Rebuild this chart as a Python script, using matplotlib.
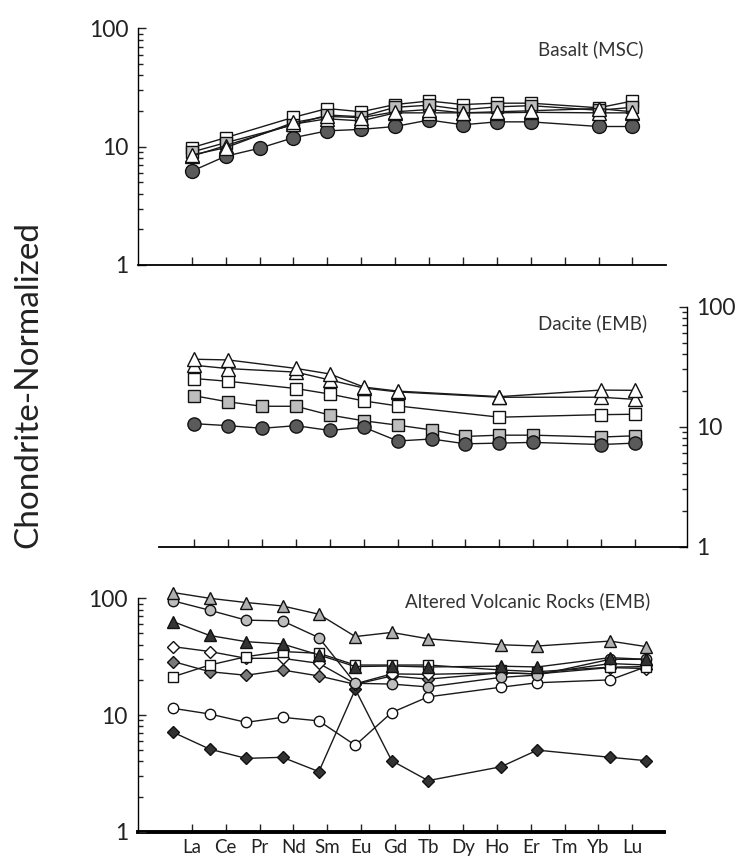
import numpy as np
import matplotlib
matplotlib.use("Agg")
import matplotlib.pyplot as plt
from matplotlib.ticker import LogLocator, NullFormatter, FixedLocator

plt.rcParams['font.family'] = ['Lato', 'DejaVu Sans']

# ---------------- data ----------------
elements = ['La', 'Ce', 'Pr', 'Nd', 'Sm', 'Eu', 'Gd', 'Tb', 'Dy', 'Ho', 'Er', 'Tm', 'Yb', 'Lu']

# Basalt (MSC)
bas_circle_el = ['La', 'Ce', 'Pr', 'Nd', 'Sm', 'Eu', 'Gd', 'Tb', 'Dy', 'Ho', 'Er', 'Yb', 'Lu']
bas_circle = [6.2, 8.3, 9.7, 11.9, 13.6, 14.0, 14.8, 16.8, 15.3, 16.2, 16.2, 14.8, 14.8]
bas_el = ['La', 'Ce', 'Nd', 'Sm', 'Eu', 'Gd', 'Tb', 'Dy', 'Ho', 'Er', 'Yb', 'Lu']
bas_gray_sq = [9.0, 10.8, 15.3, 18.5, 17.9, 21.5, 22.4, 20.5, 21.7, 22.2, 20.3, 21.5]
bas_white_sq = [9.8, 11.9, 17.7, 21.0, 19.7, 22.7, 24.3, 22.7, 23.3, 23.3, 21.3, 24.3]
bas_tri_a = [8.5, 9.8, 16.0, 18.0, 17.6, 19.7, 20.6, 19.3, 19.7, 20.1, 21.0, 19.7]
bas_tri_b = [8.3, 10.2, 15.5, 17.2, 16.5, 19.3, 19.3, 19.3, 19.3, 19.5, 19.3, 19.3]

# Dacite (EMB)
dac_full_el = ['La', 'Ce', 'Pr', 'Nd', 'Sm', 'Eu', 'Gd', 'Tb', 'Dy', 'Ho', 'Er', 'Yb', 'Lu']
dac_circle = [10.6, 10.2, 9.7, 10.2, 9.3, 9.9, 7.6, 7.9, 7.2, 7.3, 7.4, 7.1, 7.3]
dac_gray_sq = [18.1, 16.1, 14.8, 14.8, 12.5, 11.2, 10.3, 9.4, 8.3, 8.5, 8.5, 8.2, 8.4]
dac_part_el = ['La', 'Ce', 'Nd', 'Sm', 'Eu', 'Gd', 'Ho', 'Yb', 'Lu']
dac_white_sq = [25.2, 23.9, 20.8, 18.7, 16.4, 14.9, 12.0, 12.6, 12.7]
dac_tri_a = [36.5, 36.0, 30.6, 27.5, 21.4, 19.8, 17.8, 20.2, 20.1]
dac_tri_b = [32.5, 30.5, 28.5, 24.5, 21.0, 19.5, 17.6, 17.6, 16.9]

# Altered Volcanic Rocks (EMB)
alt_el = ['La', 'Ce', 'Pr', 'Nd', 'Sm', 'Eu', 'Gd', 'Tb', 'Ho', 'Er', 'Yb', 'Lu']
alt_gray_tri = [112, 100, 92, 86, 73, 47, 51, 45, 40, 39, 43, 38.5]
alt_gray_circ = [95, 79, 65, 64, 46, 18.7, 18.4, 17.4, 21, 22, 30, 30]
alt_dark_tri = [63, 48, 42.5, 40.6, 32.7, 26, 26.3, 25.8, 26.2, 25.8, 31, 30]
alt_white_dia = [38.5, 35, 30.6, 30.6, 27.7, 18.5, 22.5, 22.3, 23, 22.5, 25.5, 25]
alt_gray_dia = [28.7, 23.5, 21.9, 24.3, 21.6, 18.3, 21.6, 20.3, 23, 22.5, 27.6, 26.8]
alt_white_sq = [21.3, 26.8, 31.6, 35, 33.8, 26.8, 26.8, 26.8, 24.3, 23.5, 25.7, 26]
alt_white_circ = [11.4, 10.2, 8.65, 9.55, 8.9, 5.5, 10.5, 14.3, 17.3, 18.9, 20, 26]
alt_dark_dia = [7.1, 5.1, 4.25, 4.34, 3.27, 16.6, 4.06, 2.74, 3.6, 5.0, 4.34, 4.06]

y_ticks = [1, 10, 100]
y_labels = ['1', '10', '100']

# ---------------- layout ----------------
W, H = 738, 859
fig = plt.figure(figsize=(W / 100, H / 100), dpi=100)


def px_axes(left, right, top, bottom):
    return fig.add_axes([left / W, 1 - bottom / H, (right - left) / W, (bottom - top) / H])


def idx(els):
    return [elements.index(e) for e in els]


LINE = '#1a1a1a'
EDGE = '#111111'


def series(ax, els, vals, marker, face, ms, z):
    ax.plot(idx(els), vals, color=LINE, lw=1.0, marker=marker, ms=ms,
            mfc=face, mec=EDGE, mew=1.0, zorder=z, clip_on=False)


def style_y(ax, side='left'):
    ax.set_yscale('log')
    ax.set_ylim(1, 100)
    ax.yaxis.set_major_locator(FixedLocator(y_ticks))
    ax.set_yticklabels(y_labels)
    ax.yaxis.set_minor_locator(LogLocator(base=10, subs=np.arange(2, 10)))
    ax.yaxis.set_minor_formatter(NullFormatter())
    ax.tick_params(axis='y', which='major', direction='in', length=6, width=1.0,
                   labelsize=16.5, pad=7, colors='#222222')
    ax.tick_params(axis='y', which='minor', direction='in', length=3.8, width=1.0,
                   colors='#222222')
    if side == 'right':
        ax.yaxis.tick_right()
        ax.tick_params(axis='y', which='both', left=False, right=True)


# ---- Top panel: Basalt ----
ax1 = px_axes(138.3, 665.7, 28.3, 265)
ax1.set_xlim(-1.575, 13.98)
style_y(ax1)
for s in ['top', 'right']:
    ax1.spines[s].set_visible(False)
ax1.spines['left'].set_linewidth(1.0)
ax1.spines['bottom'].set_linewidth(1.3)
ax1.set_xticks(range(len(elements)))
ax1.set_xticklabels([])
ax1.tick_params(axis='x', direction='in', length=6, width=1.0, colors='#222222')
series(ax1, bas_circle_el, bas_circle, 'o', '#5a5a5a', 10, 3)
series(ax1, bas_el, bas_white_sq, 's', 'white', 9, 4)
series(ax1, bas_el, bas_gray_sq, 's', '#bdbdbd', 9, 5)
series(ax1, bas_el, bas_tri_b, '^', 'white', 10, 6)
series(ax1, bas_el, bas_tri_a, '^', 'white', 10, 7)
fig.text(643 / W, 1 - 49.3 / H, 'Basalt (MSC)', ha='right', va='center',
         fontsize=13.5, color='#333333')

# ---- Middle panel: Dacite ----
ax2 = px_axes(159.3, 686.7, 306.7, 546.7)
ax2.set_xlim(-1.032, 14.525)
style_y(ax2, side='right')
for s in ['top', 'left']:
    ax2.spines[s].set_visible(False)
ax2.spines['right'].set_linewidth(1.0)
ax2.spines['bottom'].set_linewidth(1.3)
ax2.set_xticks(range(len(elements)))
ax2.set_xticklabels([])
ax2.tick_params(axis='x', direction='in', length=6, width=1.0, colors='#222222')
series(ax2, dac_full_el, dac_gray_sq, 's', '#bdbdbd', 8.5, 3)
series(ax2, dac_full_el, dac_circle, 'o', '#5a5a5a', 9.5, 4)
series(ax2, dac_part_el, dac_white_sq, 's', 'white', 8.5, 5)
series(ax2, dac_part_el, dac_tri_b, '^', 'white', 10, 6)
series(ax2, dac_part_el, dac_tri_a, '^', 'white', 10, 7)
fig.text(646.7 / W, 1 - 323.3 / H, 'Dacite (EMB)', ha='right', va='center',
         fontsize=13.5, color='#333333')

# ---- Bottom panel: Altered volcanic rocks ----
ax3 = px_axes(137.7, 664, 598.3, 831.7)
P0, PS = 173.3, 36.4   # data spacing (px)
T0, TS = 191.7, 33.9   # tick spacing (px)
ax3.set_xlim((137.7 - P0) / PS, (664 - P0) / PS)
style_y(ax3)
for s in ['top', 'right', 'bottom']:
    ax3.spines[s].set_visible(False)
ax3.spines['left'].set_linewidth(1.0)
ax3.set_xticks([])
sec = ax3.secondary_xaxis('bottom',
                          functions=(lambda x: (P0 + PS * x - T0) / TS,
                                     lambda t: (T0 + TS * t - P0) / PS))
sec.set_xticks(range(len(elements)))
sec.set_xticklabels(elements)
sec.spines['bottom'].set_linewidth(2.8)
sec.tick_params(axis='x', direction='in', length=6, width=1.0, labelsize=13.5,
                pad=5, colors='#222222')
series(ax3, alt_el, alt_dark_dia, 'D', '#333333', 6.5, 3)
series(ax3, alt_el, alt_white_circ, 'o', 'white', 7.5, 4)
series(ax3, alt_el, alt_gray_dia, 'D', '#7a7a7a', 6.5, 5)
series(ax3, alt_el, alt_white_dia, 'D', 'white', 6.5, 6)
series(ax3, alt_el, alt_white_sq, 's', 'white', 6.5, 7)
series(ax3, alt_el, alt_gray_circ, 'o', '#bdbdbd', 7.5, 8)
series(ax3, alt_el, alt_dark_tri, '^', '#333333', 8, 9)
series(ax3, alt_el, alt_gray_tri, '^', '#b0b0b0', 8, 10)
fig.text(405 / W, 1 - 601.7 / H, 'Altered Volcanic Rocks (EMB)', ha='left', va='center',
         fontsize=13.5, color='#333333')

# ---- shared y label ----
fig.text(28 / W, 1 - 385 / H, 'Chondrite-Normalized', rotation=90, ha='center', va='center',
         fontsize=24, color='#222222')

fig.savefig('out.png', dpi=100)
